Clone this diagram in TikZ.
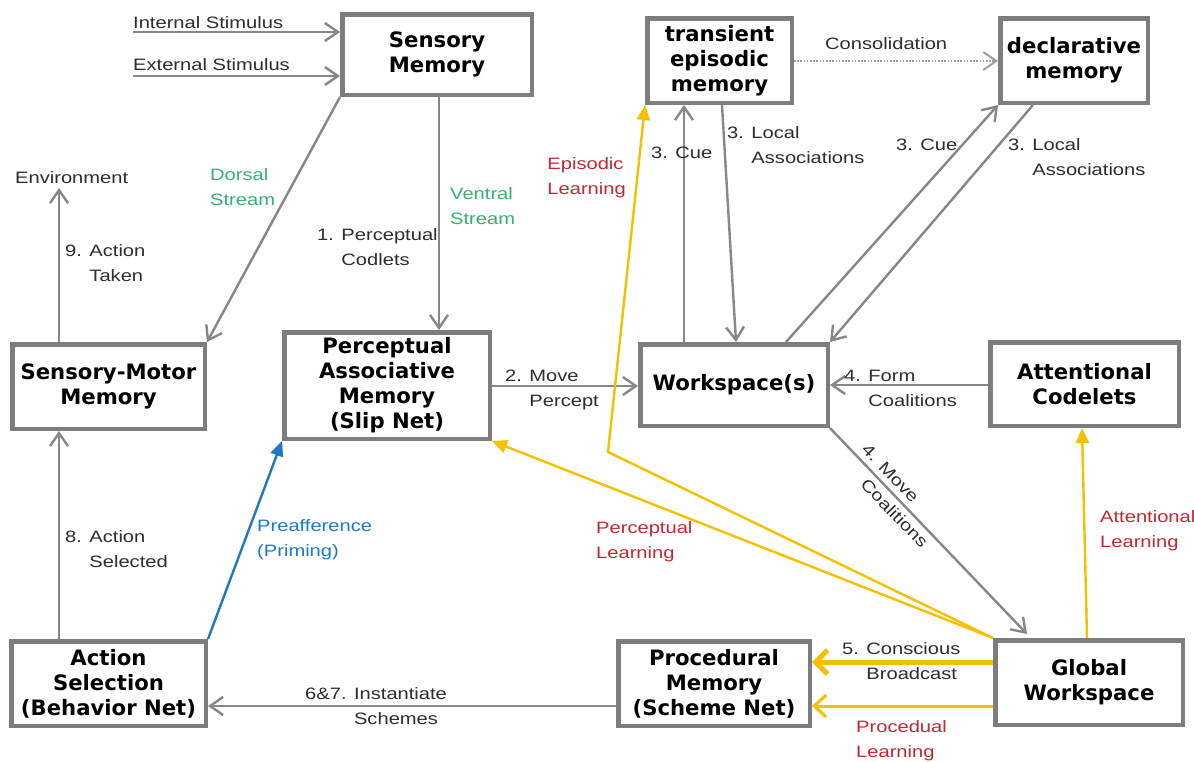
\documentclass[tikz,border=0pt]{standalone}
\usepackage{fontspec}
\usetikzlibrary{arrows.meta,calc}
\newfontfamily\lblfont[FakeStretch=1.22]{Liberation Sans}
\newfontfamily\boxfont{DejaVu Sans}
% two-line label whose baseline is the baseline of its first line
\newcommand\lbltwo[2]{\vtop{\baselineskip=25pt\lineskiplimit=-50pt\hbox{#1}\hbox{#2}}}
\definecolor{lineg}{RGB}{135,135,135}
\definecolor{boxg}{RGB}{125,125,125}
\definecolor{gold}{RGB}{245,192,0}
\definecolor{pblue}{RGB}{30,120,195}
\definecolor{sgreen}{RGB}{50,180,110}
\definecolor{lred}{RGB}{195,40,50}
\definecolor{ltext}{RGB}{45,45,45}
\tikzset{
  mbox/.style={draw=boxg, line width=4.5pt, outer sep=2.25pt, fill=white,
    align=center, inner sep=0pt, text=black,
    font={\boxfont\bfseries\fontsize{21.2}{25}\selectfont}},
  lbl/.style={font={\lblfont\fontsize{16.5}{25}\selectfont}, text=ltext,
    inner sep=0pt, anchor=base west},
  garr/.style={draw=lineg, line width=2.4pt, -{Straight Barb[length=13pt,width=18pt]}},
  dotarr/.style={draw=lineg!80, line width=2pt, dash pattern=on 1.6pt off 1.6pt,
    -{Straight Barb[length=13pt,width=18pt]}},
  yarr/.style={draw=gold, line width=2.4pt, line join=round,
    -{Triangle[length=15pt,width=13pt]}},
  ythick/.style={draw=gold, line width=5pt, -{Straight Barb[length=12pt,width=24pt]}},
  ymid/.style={draw=gold, line width=3pt, -{Straight Barb[length=12pt,width=22pt]}},
  barr/.style={draw=pblue, line width=2.4pt, -{Triangle[length=15pt,width=13pt]}},
}
\begin{document}
\begin{tikzpicture}[x=1pt,y=-1pt]
\fill[white] (0,0) rectangle (1194,761);
\useasboundingbox (0,0) rectangle (1194,761);

% ---- yellow learning paths and the blue priming path (drawn below the boxes)
\node[mbox,minimum width=189.5pt,minimum height=80.5pt] (smem) at (437,54.5) {Sensory\\Memory};
\node[mbox,minimum width=144.5pt,minimum height=84.5pt] (tem) at (719.5,60.5) {transient\\episodic\\memory};
\node[mbox,minimum width=147.5pt,minimum height=84.5pt] (dm) at (1074,60.5) {declarative\\memory};
\node[mbox,minimum width=192.5pt,minimum height=84.5pt] (smm) at (108.5,386.5) {Sensory-Motor\\Memory};
\node[mbox,minimum width=205.5pt,minimum height=106.5pt] (pam) at (387,385.5) {Perceptual\\Associative\\Memory\\(Slip Net)};
\node[mbox,minimum width=187.5pt,minimum height=81.5pt] (ws) at (734,385) {Workspace(s)};
\node[mbox,minimum width=188.5pt,minimum height=83.5pt] (ac) at (1084.5,384) {Attentional\\Codelets};
\node[mbox,minimum width=194.5pt,minimum height=84.5pt] (as) at (108.5,683.5) {Action\\Selection\\(Behavior Net)};
\node[mbox,minimum width=191.5pt,minimum height=84.5pt] (pm) at (714,683.5) {Procedural\\Memory\\(Scheme Net)};
\node[mbox,minimum width=187.5pt,minimum height=84.5pt] (gw) at (1089,682.5) {Global\\Workspace};

% ---- gray information flow
\coordinate (inS) at (133,32);
\coordinate (exS) at (133,76);
\draw[garr] (inS) -- (inS -| smem.west);
\draw[garr] (exS) -- (exS -| smem.west);
\draw[garr] (smem.south west) -- (smm.north east);
\coordinate (vs) at (439,0);
\draw[garr] (vs |- smem.south) -- (vs |- pam.north);
\coordinate (env) at (59,188);
\draw[garr] (env |- smm.north) -- (env);
\draw[garr] (env |- as.north) -- (env |- smm.south);
\coordinate (i67) at (0,706);
\draw[garr] (i67 -| pm.west) -- (i67 -| as.east);
\coordinate (mp) at (0,386);
\draw[garr] (mp -| pam.east) -- (mp -| ws.west);
\coordinate (fc) at (0,385);
\draw[garr] (fc -| ac.west) -- (fc -| ws.east);
\coordinate (mcEnd) at (1027,634);
\draw[garr] (ws.south east) -- (mcEnd);
\coordinate (cueA) at (684,0);
\draw[garr] (cueA |- ws.north) -- (cueA |- tem.south);
\coordinate (laA) at (722,0);
\coordinate (laB) at (736,0);
\draw[garr] (laA |- tem.south) -- (laB |- ws.north);
\coordinate (cueB) at (786,0);
\draw[garr] (cueB |- ws.north) -- (dm.south west);
\coordinate (laC) at (1033,0);
\draw[garr] (laC |- dm.south) -- (ws.north east);
\coordinate (cons) at (0,61);
\draw[dotarr] (cons -| tem.east) -- (cons -| dm.west);

% ---- learning (yellow) and priming (blue)
\coordinate (bend) at (608,452);
\draw[yarr] (gw.north west) -- (bend) -- (tem.south west);
\draw[yarr] (gw.north west) -- (pam.south east);
\coordinate (atA) at (1087,0);
\coordinate (atB) at (1082,0);
\draw[yarr] (atA |- gw.north) -- (atB |- ac.south);
\coordinate (cb) at (0,662);
\draw[ythick] (cb -| gw.west) -- (cb -| pm.east);
\coordinate (pl) at (0,706);
\draw[ymid] (pl -| gw.west) -- (pl -| pm.east);
\draw[barr] (as.north east) -- (pam.south west);

% ---- labels
\node[lbl] (tIn) at (133,28) {Internal Stimulus};
\node[lbl] (tEx) at (133,70) {External Stimulus};
\node[lbl] (tEnv) at (15,183) {Environment};
\node[lbl,text=sgreen] (tDor) at (210,180) {\lbltwo{Dorsal}{Stream}};
\node[lbl,text=sgreen] (tVen) at (450,199) {\lbltwo{Ventral}{Stream}};
\node[lbl] (t1) at (317,240) {\lbltwo{1. Perceptual}{\hphantom{1. }Codlets}};
\node[lbl] (t9) at (65,256) {\lbltwo{9. Action}{\hphantom{9. }Taken}};
\node[lbl,anchor=base east,text=lred] (tEpi) at (626,169) {\lbltwo{Episodic}{Learning}};
\node[lbl] (tCueA) at (651,158) {3. Cue};
\node[lbl] (tLoA) at (727,138) {\lbltwo{3. Local}{\hphantom{3. }Associations}};
\node[lbl] (tCueB) at (896,150) {3. Cue};
\node[lbl] (tLoB) at (1008,150) {\lbltwo{3. Local}{\hphantom{3. }Associations}};
\node[lbl] (tCons) at (825,49) {Consolidation};
\node[lbl] (t2) at (505,381) {\lbltwo{2. Move}{\hphantom{2. }Percept}};
\node[lbl] (t4f) at (844,381) {\lbltwo{4. Form}{\hphantom{4. }Coalitions}};
\node[lbl,text=lred] (tPL) at (596,533) {\lbltwo{Perceptual}{Learning}};
\node[lbl] (t8) at (65,542) {\lbltwo{8. Action}{\hphantom{8. }Selected}};
\node[lbl,text=pblue] (tPre) at (257,531) {\lbltwo{Preafference}{(Priming)}};
\node[lbl] (t67) at (305,699) {\lbltwo{6\&7. Instantiate}{\hphantom{6\&7. }Schemes}};
\node[lbl] (t5) at (842,654) {\lbltwo{5. Conscious}{\hphantom{5. }Broadcast}};
\node[lbl,text=lred] (tProc) at (856,732) {\lbltwo{Procedual}{Learning}};
\node[lbl,text=lred] (tAtt) at (1100,522) {\lbltwo{Attentional}{Learning}};
\node[lbl,anchor=center,rotate=-46] (t4m) at (895,496) {\lbltwo{4. Move}{\hphantom{4. }Coalitions}};
\end{tikzpicture}
\end{document}
